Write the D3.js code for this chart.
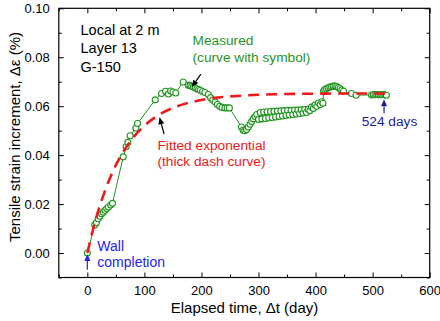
<!DOCTYPE html>
<html>
<head>
<meta charset="utf-8">
<script src="https://cdn.jsdelivr.net/npm/d3@7"></script>
<style>
  body { margin: 0; background: #fff; }
  svg { font-family: "Liberation Sans", Arial, sans-serif; }
</style>
</head>
<body>
<div id="chart"></div>
<script>
// Measured strain (day, %)
var measDays = [0, 13, 16, 19, 22, 25, 28, 31, 34, 37, 41, 44,
  63, 68, 71, 75, 85, 88, 119, 130, 137, 142, 146, 150, 155, 168,
  177, 180, 183, 186, 189, 192, 195, 198, 202, 206, 212, 216, 220, 224, 228, 232, 236, 241, 245, 249,
  270, 273, 276, 279, 282, 285, 288, 291, 294, 297,
  300, 303, 306, 309, 312, 315, 318, 321, 324, 327, 330, 333, 336, 339, 342, 345, 348, 351, 354, 357,
  360, 363, 366, 369, 372, 375, 378, 381, 384, 387,
  390, 393, 396, 399, 402, 405, 408, 411, 413,
  414, 416, 419, 422, 425, 428, 431, 434, 437, 440, 443, 446, 449,
  463, 471, 498, 501, 504, 507, 510, 513, 516, 519, 522, 524];
var measVals = [0.0000, 0.0115, 0.0125, 0.0140, 0.0150, 0.0160, 0.0167, 0.0175, 0.0182, 0.0188, 0.0196, 0.0203,
  0.0393, 0.0434, 0.0452, 0.0479, 0.0511, 0.0529, 0.0626, 0.0652, 0.0661, 0.0650, 0.0662, 0.0658, 0.0654, 0.0699,
  0.0686, 0.0684, 0.0681, 0.0678, 0.0675, 0.0671, 0.0668, 0.0665, 0.0660, 0.0656, 0.0648, 0.0635, 0.0625, 0.0617, 0.0607, 0.0600, 0.0595, 0.0593, 0.0593, 0.0593,
  0.0515, 0.0503, 0.0500, 0.0505, 0.0515, 0.0526, 0.0537, 0.0548, 0.0558, 0.0566,
  0.0546, 0.0574, 0.0548, 0.0576, 0.0550, 0.0577, 0.0552, 0.0578, 0.0554, 0.0579, 0.0556, 0.0580, 0.0558, 0.0581, 0.0560, 0.0582, 0.0562, 0.0583, 0.0564, 0.0583,
  0.0566, 0.0584, 0.0568, 0.0584, 0.0570, 0.0585, 0.0572, 0.0586, 0.0574, 0.0587,
  0.0582, 0.0596, 0.0591, 0.0605, 0.0600, 0.0613, 0.0607, 0.0618, 0.0612,
  0.0662, 0.0668, 0.0672, 0.0675, 0.0678, 0.0680, 0.0682, 0.0682, 0.0680, 0.0676, 0.0671, 0.0666, 0.0661,
  0.0652, 0.0645, 0.0646, 0.0648, 0.0647, 0.0648, 0.0647, 0.0648, 0.0647, 0.0648, 0.0646, 0.0645];

// Fitted exponential curve
var fitDays = [0, 10, 20, 30, 45, 60, 80, 100, 125, 150, 180, 220, 270, 330, 400, 460, 524];
var fitVals = [0, 0.0096, 0.0179, 0.0248, 0.0335, 0.0402, 0.0471, 0.0520, 0.0564, 0.0593, 0.0615, 0.0633, 0.0643, 0.0649, 0.0651, 0.0652, 0.0652];

var xTicks = [0, 100, 200, 300, 400, 500, 600];
var yTicks = [0.00, 0.02, 0.04, 0.06, 0.08, 0.10];

var W = 440, H = 321;
var green = "#1f941f";

var svg = d3.select("#chart").append("svg")
  .attr("width", W).attr("height", H);

var x = d3.scaleLinear().domain([-50, 600]).range([58.8, 429.7]);
var y = d3.scaleLinear().domain([-0.01, 0.10]).range([277.5, 8.3]);

// axes, ticks all inside
var xMinor = d3.range(-50, 601, 50).filter(function(d) { return d % 100 !== 0; });
var yMinor = d3.range(-0.01, 0.1001, 0.02);

svg.append("g").attr("transform", "translate(0," + y.range()[0] + ")")
  .call(d3.axisBottom(x).tickValues(xTicks).tickSize(-5).tickPadding(8).tickSizeOuter(0));
svg.append("g").attr("transform", "translate(0," + y.range()[0] + ")")
  .call(d3.axisBottom(x).tickValues(xMinor).tickSize(-3).tickFormat("").tickSizeOuter(0));
svg.append("g").attr("transform", "translate(0," + y.range()[1] + ")")
  .call(d3.axisTop(x).tickValues(xTicks).tickSize(-5).tickFormat("").tickSizeOuter(0));
svg.append("g").attr("transform", "translate(0," + y.range()[1] + ")")
  .call(d3.axisTop(x).tickValues(xMinor).tickSize(-3).tickFormat("").tickSizeOuter(0));

svg.append("g").attr("transform", "translate(" + x.range()[0] + ",0)")
  .call(d3.axisLeft(y).tickValues(yTicks).tickSize(-5).tickPadding(9).tickFormat(d3.format(".2f")).tickSizeOuter(0));
svg.append("g").attr("transform", "translate(" + x.range()[0] + ",0)")
  .call(d3.axisLeft(y).tickValues(yMinor).tickSize(-3).tickFormat("").tickSizeOuter(0));
svg.append("g").attr("transform", "translate(" + x.range()[1] + ",0)")
  .call(d3.axisRight(y).tickValues(yTicks).tickSize(-5).tickFormat("").tickSizeOuter(0));
svg.append("g").attr("transform", "translate(" + x.range()[1] + ",0)")
  .call(d3.axisRight(y).tickValues(yMinor).tickSize(-3).tickFormat("").tickSizeOuter(0));

svg.selectAll(".tick text").style("font-size", "13px").attr("fill", "#000");
svg.selectAll(".domain").remove();
svg.selectAll(".tick line").attr("stroke", "#000");

svg.append("rect")
  .attr("x", x.range()[0]).attr("y", y.range()[1])
  .attr("width", x.range()[1] - x.range()[0])
  .attr("height", y.range()[0] - y.range()[1])
  .attr("fill", "none").attr("stroke", "#000").attr("stroke-width", 1.2);

// axis titles
svg.append("text")
  .attr("x", 244.5).attr("y", 313)
  .attr("text-anchor", "middle").style("font-size", "15px")
  .text("Elapsed time, \u0394t (day)");
svg.append("text")
  .attr("transform", "translate(19.5,137) rotate(-90)")
  .attr("text-anchor", "middle").style("font-size", "15px")
  .text("Tensile strain increment, \u0394\u03b5 (%)");

// measured curve
var meas = measDays.map(function(d, i) { return [d, measVals[i]]; });
var line = d3.line().x(function(d) { return x(d[0]); }).y(function(d) { return y(d[1]); });

svg.append("path").datum(meas)
  .attr("d", line).attr("fill", "none")
  .attr("stroke", green).attr("stroke-width", 1);
svg.append("g").selectAll("circle")
  .data(meas).enter().append("circle")
    .attr("cx", function(d) { return x(d[0]); })
    .attr("cy", function(d) { return y(d[1]); })
    .attr("r", 3)
    .attr("fill", "#fff").attr("stroke", green).attr("stroke-width", 1.1);

// fitted curve
var fit = fitDays.map(function(d, i) { return [d, fitVals[i]]; });
svg.append("path").datum(fit)
  .attr("d", line.curve(d3.curveMonotoneX))
  .attr("fill", "none").attr("stroke", "#f01818")
  .attr("stroke-width", 2.6).attr("stroke-dasharray", "11,7");

// arrows
function arrow(x1, y1, x2, y2, col) {
  var ang = Math.atan2(y2 - y1, x2 - x1), L = 7, Wd = 3;
  var bx = x2 - L * Math.cos(ang), by = y2 - L * Math.sin(ang);
  svg.append("line").attr("x1", x1).attr("y1", y1).attr("x2", bx).attr("y2", by)
    .attr("stroke", col).attr("stroke-width", 1.2);
  svg.append("path")
    .attr("d", "M" + x2 + "," + y2 +
      "L" + (bx + Wd * Math.sin(ang)) + "," + (by - Wd * Math.cos(ang)) +
      "L" + (bx - Wd * Math.sin(ang)) + "," + (by + Wd * Math.cos(ang)) + "Z")
    .attr("fill", col);
}
arrow(x(199), y(0.0731), x(183), y(0.0678), "#000");
arrow(x(134.5), y(0.0486), x(126.5), y(0.0555), "#000");
arrow(x(0), y(-0.0068), x(0), y(-0.0004), "#2323ee");
arrow(x(520), y(0.0571), x(520), y(0.0628), "#1d1d9a");

// annotations
function label(lines, px, py, col, size, lh) {
  var t = svg.append("text").attr("x", px).attr("y", py)
    .attr("fill", col).style("font-size", size + "px");
  lines.forEach(function(s, i) {
    t.append("tspan").attr("x", px).attr("dy", i ? lh : 0).text(s);
  });
}
label(["Local at 2 m", "Layer 13", "G-150"], 80.5, 35, "#000", 14.5, 18.3);
label(["Measured", "(curve with symbol)"], 192.5, 45, green, 13.7, 16.5);
label(["Fitted exponential", "(thick dash curve)"], 157.5, 150, "#f01818", 13.7, 16.3);
label(["Wall", "completion"], 97.3, 250.7, "#2323ee", 14, 16);
label(["524 days"], 361.7, 125.7, "#1d1d9a", 13.7, 16);
</script>
</body>
</html>
